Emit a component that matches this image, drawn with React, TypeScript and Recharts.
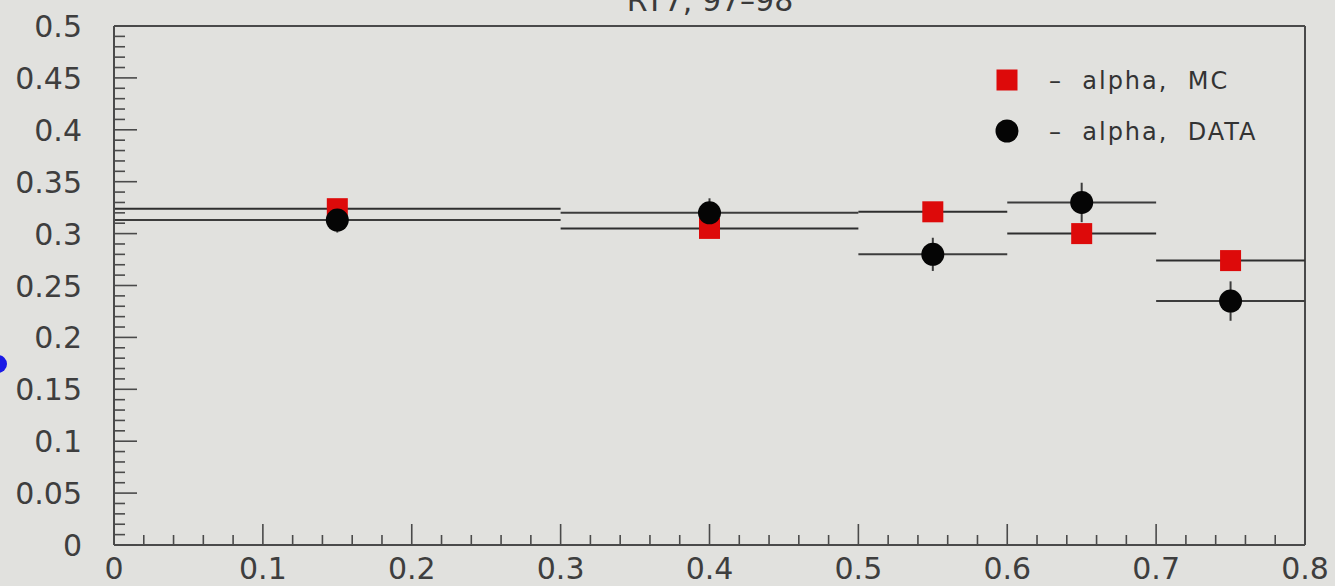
import React from "react";
import {
  ScatterChart,
  Scatter,
  XAxis,
  YAxis,
  ErrorBar,
  ReferenceLine,
  Legend,
} from "recharts";

// bins in x: centre and half width (the horizontal bars)
const binCenters = [0.15, 0.4, 0.55, 0.65, 0.75];
const binHalfWidths = [0.15, 0.1, 0.05, 0.05, 0.05];

// alpha per bin
const alphaMC = [0.324, 0.305, 0.321, 0.3, 0.274];
const alphaData = [0.313, 0.32, 0.28, 0.33, 0.235];
const alphaDataErr = [0.012, 0.014, 0.016, 0.019, 0.019];

const xMajorTicks = [0, 0.1, 0.2, 0.3, 0.4, 0.5, 0.6, 0.7, 0.8];
const yMajorTicks = [0, 0.05, 0.1, 0.15, 0.2, 0.25, 0.3, 0.35, 0.4, 0.45, 0.5];
const X_MINOR = 5; // 0.02 steps
const Y_MINOR = 5; // 0.01 steps

const title = "RT7, 97–98";
const legendLabels = ["–  alpha,  MC", "–  alpha,  DATA"];

const W = 1335;
const H = 586;
const BG = "#e1e1de";
const AXIS = "#4a4a4a";
const FONT = "'DejaVu Sans', sans-serif";

const subdivide = (majors: number[], n: number) => {
  const out: number[] = [];
  majors.forEach((m, i) => {
    if (i === majors.length - 1) {
      out.push(m);
      return;
    }
    const step = (majors[i + 1] - m) / n;
    for (let k = 0; k < n; k++) out.push(+(m + k * step).toFixed(4));
  });
  return out;
};

const isMajor = (majors: number[], v: number) =>
  majors.some((m) => Math.abs(m - v) < 1e-6);

const fmt = (v: number) => String(+v.toFixed(2));

const xTicks = subdivide(xMajorTicks, X_MINOR);
const yTicks = subdivide(yMajorTicks, Y_MINOR);

const mcPoints = binCenters.map((x, i) => ({
  x,
  y: alphaMC[i],
  xErr: binHalfWidths[i],
}));

const dataPoints = binCenters.map((x, i) => ({
  x,
  y: alphaData[i],
  xErr: binHalfWidths[i],
  yErr: alphaDataErr[i],
}));

// ticks point inward, labels outside
const XTick = (props: any) => {
  const { x, y, payload } = props;
  const major = isMajor(xMajorTicks, payload.value);
  return (
    <g>
      <line x1={x} x2={x} y1={y} y2={y - (major ? 21 : 10)} stroke={AXIS} strokeWidth={1.6} />
      {major && (
        <text x={x} y={y + 34} textAnchor="middle" fill="#3e3e3e" fontSize={30} fontFamily={FONT}>
          {fmt(payload.value)}
        </text>
      )}
    </g>
  );
};

const YTick = (props: any) => {
  const { x, y, payload } = props;
  const major = isMajor(yMajorTicks, payload.value);
  return (
    <g>
      <line x1={x} x2={x + (major ? 23 : 11)} y1={y} y2={y} stroke={AXIS} strokeWidth={1.6} />
      {major && (
        <text x={x - 32} y={y + 11} textAnchor="end" fill="#3e3e3e" fontSize={30} fontFamily={FONT}>
          {fmt(payload.value)}
        </text>
      )}
    </g>
  );
};

const SquareDot = (props: any) => (
  <rect x={props.cx - 10.5} y={props.cy - 10.5} width={21} height={21} fill="#dd0a0a" />
);

const RoundDot = (props: any) => (
  <circle cx={props.cx} cy={props.cy} r={11.5} fill="#050505" />
);

const LegendBox = () => (
  <svg width={300} height={110}>
    <rect x={11.5} y={19.5} width={21} height={21} fill="#dd0a0a" />
    <circle cx={22} cy={81} r={11.5} fill="#050505" />
    {legendLabels.map((t, i) => (
      <text
        key={t}
        x={64}
        y={39 + i * 51}
        fontSize={24}
        letterSpacing={2}
        fill="#333"
        fontFamily={FONT}
        style={{ whiteSpace: "pre" }}
      >
        {t}
      </text>
    ))}
  </svg>
);

export default function App() {
  return (
    <div style={{ position: "absolute", left: 0, top: 0, width: W, height: H, background: BG, overflow: "hidden" }}>
      <ScatterChart width={W} height={H} margin={{ top: 26, right: 30, bottom: 0, left: 0 }}>
        <XAxis
          type="number"
          dataKey="x"
          domain={[0, 0.8]}
          ticks={xTicks}
          interval={0}
          height={41}
          tickSize={0}
          tickMargin={0}
          tickLine={false}
          axisLine={{ stroke: AXIS, strokeWidth: 2 }}
          tick={<XTick />}
          allowDataOverflow
        />
        <YAxis
          type="number"
          dataKey="y"
          domain={[0, 0.5]}
          ticks={yTicks}
          interval={0}
          width={114}
          tickSize={0}
          tickMargin={0}
          tickLine={false}
          axisLine={{ stroke: AXIS, strokeWidth: 2 }}
          tick={<YTick />}
          allowDataOverflow
        />
        <ReferenceLine y={0.5} stroke={AXIS} strokeWidth={2} />
        <ReferenceLine x={0.8} stroke={AXIS} strokeWidth={2} />
        <Legend
          layout="horizontal"
          verticalAlign="middle"
          content={<LegendBox />}
          wrapperStyle={{ left: 985, top: 50, width: 300, height: 110 }}
        />
        <Scatter name="alpha, MC" data={mcPoints} shape={<SquareDot />} isAnimationActive={false}>
          <ErrorBar dataKey="xErr" direction="x" width={0} stroke="#2e2e2e" strokeWidth={2} />
        </Scatter>
        <Scatter name="alpha, DATA" data={dataPoints} shape={<RoundDot />} isAnimationActive={false}>
          <ErrorBar dataKey="xErr" direction="x" width={0} stroke="#3c3c3c" strokeWidth={2} />
          <ErrorBar dataKey="yErr" direction="y" width={0} stroke="#3c3c3c" strokeWidth={2} />
        </Scatter>
      </ScatterChart>
      <svg
        width={W}
        height={H}
        style={{ position: "absolute", left: 0, top: 0, pointerEvents: "none" }}
      >
        <text x={710} y={11} textAnchor="middle" fontSize={30} fill="#3a3a3a" fontFamily={FONT}>
          {title}
        </text>
        <circle cx={-2} cy={364} r={9} fill="#1a1ae6" />
      </svg>
    </div>
  );
}
